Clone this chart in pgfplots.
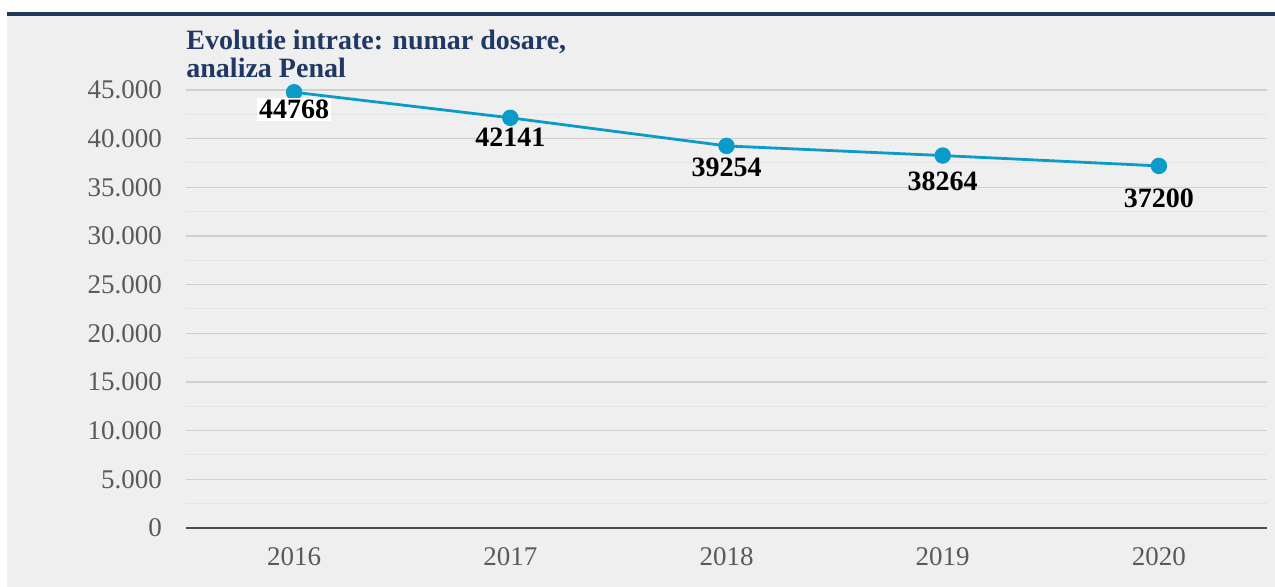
\documentclass[border=0pt]{standalone}
\usepackage{pgfplots}
\pgfplotsset{compat=1.18}
\usepackage{pgfplotstable}
\usepackage{fontspec}
\setmainfont{Liberation Serif}

\definecolor{bgpanel}{HTML}{EFEFEF}
\definecolor{navy}{HTML}{1F3A5C}
\definecolor{titlecol}{HTML}{1F3864}
\definecolor{linecol}{HTML}{0A9BC8}
\definecolor{gridmaj}{HTML}{CFCFCF}
\definecolor{gridmin}{HTML}{E4E4E4}
\definecolor{ticktext}{HTML}{595959}

% x index, value, label drop (pt)
\pgfplotstableread{
x  y      dy
0  44768  9
1  42141  9.5
2  39254  10.5
3  38264  13
4  37200  16
}\penal

\begin{document}
\begin{tikzpicture}
% panel, top rule and page size (1 px = 0.5 pt)
\path[use as bounding box] (0,0) rectangle (637.5pt,293.5pt);
\fill[bgpanel] (3.5pt,0) rectangle (637.5pt,285.5pt);
\fill[navy] (3.5pt,285.5pt) rectangle (637.5pt,287.5pt);
\node[anchor=base west, font=\fontsize{14}{16}\selectfont\bfseries,
      text=titlecol, inner sep=0pt] at (93pt,268.5pt) {Evolutie intrate: numar dosare,};
\node[anchor=base west, font=\fontsize{14}{16}\selectfont\bfseries,
      text=titlecol, inner sep=0pt] at (93pt,254.5pt) {analiza Penal};
\begin{axis}[
    at={(93pt,29.5pt)}, anchor=south west,
    width=540.5pt, height=219pt, scale only axis,
    xmin=-0.5, xmax=4.5, ymin=0, ymax=45000,
    xtick={0,1,2,3,4},
    xticklabels={2016,2017,2018,2019,2020},
    ytick={0,5000,...,45000},
    minor ytick={2500,7500,...,42500},
    axis x line*=bottom, axis y line*=left,
    x axis line style={draw=black!70, line width=0.8pt, -},
    y axis line style={draw=none},
    ymajorgrids, yminorgrids,
    major grid style={gridmaj, line width=0.6pt},
    minor grid style={gridmin, line width=0.5pt},
    major tick length=0pt, minor tick length=0pt,
    tick style={draw=none},
    ticklabel style={font=\fontsize{13.5}{15}\selectfont, text=ticktext},
    yticklabel style={xshift=-8.5pt},
    xticklabel style={yshift=-6pt},
    /pgf/number format/assume math mode=true,
    y tick label style={/pgf/number format/.cd, 1000 sep={.}, fixed},
    scaled y ticks=false,
    clip=false,
]
\addplot[color=linecol, line width=1.4pt, mark=*,
    mark options={fill=linecol, draw=linecol, scale=1.7}]
    table[x=x, y=y] {\penal};
% value labels
\addplot[draw=none, mark=none,
    point meta=explicit symbolic,
    visualization depends on={\thisrow{dy} \as \dy},
    nodes near coords,
    every node near coord/.append style={anchor=center, yshift=-\dy pt,
        font=\fontsize{14}{15}\selectfont\bfseries, text=black,
        fill=white, inner sep=1pt}]
    table[x=x, y=y, meta=y] {
x  y      dy
0  44768  8.5
};
\addplot[draw=none, mark=none,
    point meta=explicit symbolic,
    visualization depends on={\thisrow{dy} \as \dy},
    nodes near coords,
    every node near coord/.append style={anchor=center, yshift=-\dy pt,
        font=\fontsize{14}{15}\selectfont\bfseries, text=black, inner sep=1pt}]
    table[x=x, y=y, meta=y] {
x  y      dy
1  42141  9.5
2  39254  10.5
3  38264  13
4  37200  16
};
\end{axis}
\end{tikzpicture}
\end{document}
